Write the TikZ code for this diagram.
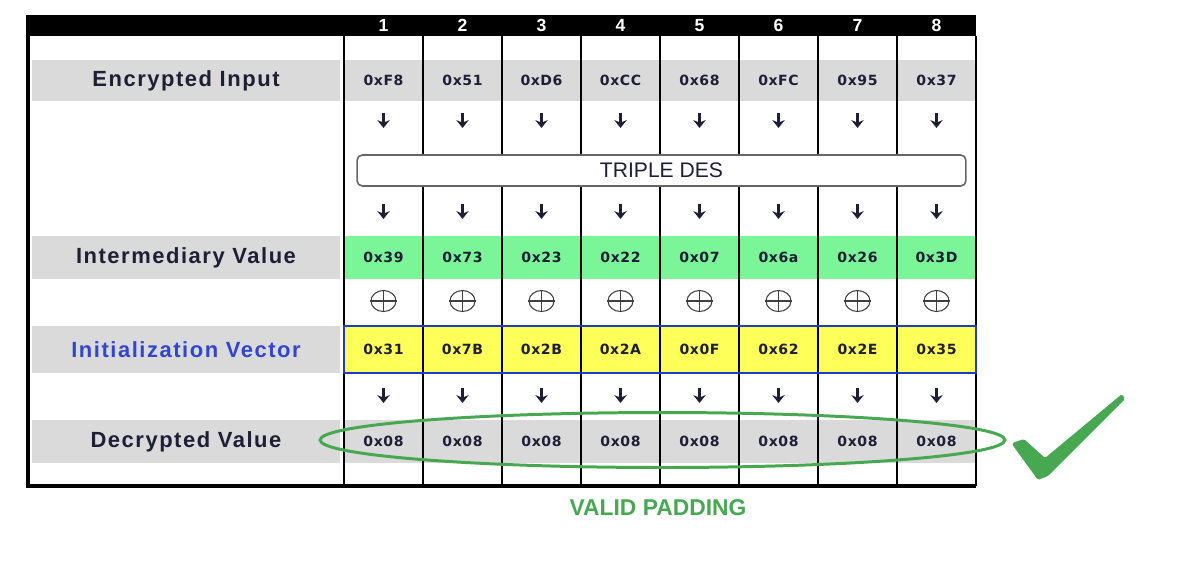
\documentclass[tikz,border=0pt]{standalone}
\usepackage{fontspec}
\setmainfont{Liberation Sans}
\newfontfamily\lblfont{Liberation Sans}[LetterSpace=7]
\newfontfamily\hexfont{DejaVu Sans}[LetterSpace=4]
\usetikzlibrary{shapes.geometric, arrows.meta}
\definecolor{bandgray}{RGB}{218,218,218}
\definecolor{midgreen}{RGB}{122,246,152}
\definecolor{ivyellow}{RGB}{255,255,90}
\definecolor{ivblue}{RGB}{30,60,200}
\definecolor{lblblue}{RGB}{50,70,205}
\definecolor{okgreen}{RGB}{72,168,82}
\definecolor{inkdark}{RGB}{30,30,55}

\begin{document}
\begin{tikzpicture}[x=0.02cm, y=-0.02cm,
    rowlabel/.style={fill=bandgray, minimum width=6.16cm, inner sep=0pt, text=inkdark,
        font=\lblfont\bfseries\fontsize{12.5}{14}\selectfont},
    hexcell/.style={minimum width=1.58cm, inner sep=0pt, text=inkdark,
        font=\hexfont\bfseries\fontsize{8}{10}\selectfont},
    colnum/.style={text=white, font=\bfseries\fontsize{10}{12}\selectfont},
    desbox/.style={draw=black!60, fill=white, rounded corners=3pt, line width=0.9pt,
        minimum width=12.18cm, minimum height=0.62cm, text=inkdark, font=\fontsize{12}{14}\selectfont},
    downarrow/.style={-{Stealth[length=4.5pt, width=7pt]}, line width=1.3pt, draw=inkdark},
    xorsign/.style={draw=black!75, ellipse, minimum width=0.5cm, minimum height=0.42cm,
        inner sep=0pt, line width=0.6pt},
    gridline/.style={line width=1.2pt},
  ]
    \useasboundingbox (0,0) rectangle (1200,562);

    \node[rowlabel, minimum height=0.82cm] (enclbl) at (186,80.5) {Encrypted Input};
    \node[rowlabel, minimum height=0.86cm] (intlbl) at (186,257.5) {Intermediary Value};
    \node[rowlabel, minimum height=0.94cm, text=lblblue] (ivlbl) at (186,349.5) {Initialization Vector};
    \node[rowlabel, minimum height=0.86cm] (declbl) at (186,441.5) {Decrypted Value};

    \foreach \v [count=\i] in {0xF8,0x51,0xD6,0xCC,0x68,0xFC,0x95,0x37}
        \node[hexcell, fill=bandgray, minimum height=0.82cm] (enc\i) at (304.5+79*\i,80.5) {\v};
    \foreach \v [count=\i] in {0x39,0x73,0x23,0x22,0x07,0x6a,0x26,0x3D}
        \node[hexcell, fill=midgreen, minimum height=0.86cm] (mid\i) at (304.5+79*\i,257.5) {\v};
    \foreach \v [count=\i] in {0x31,0x7B,0x2B,0x2A,0x0F,0x62,0x2E,0x35}
        \node[hexcell, fill=ivyellow, minimum height=0.94cm] (iv\i) at (304.5+79*\i,349.5) {\v};
    \foreach \i in {1,...,8}
        \node[hexcell, fill=bandgray, minimum height=0.86cm] (dec\i) at (304.5+79*\i,441.5) {0x08};

    \fill (27,15) rectangle (976,36);
    \foreach \i in {1,...,8}
        \node[colnum] (col\i) at (304.5+79*\i,25.5) {\i};

    \foreach \k in {0,...,8}
        \draw[gridline] (344+79*\k,36) -- (344+79*\k,486);
    \draw[line width=1.8pt] (28,15) -- (28,486) -- (976,486);
    \draw[ivblue, line width=1.4pt] (344,326) rectangle (976,373);

    \node[desbox] (des) at (661.5,170.5) {TRIPLE DES};

    \foreach \i in {1,...,8} {
        \foreach \r/\y in {a/113, b/204, c/388} {
            \coordinate (\r t\i) at (304.5+79*\i,\y);
            \coordinate (\r b\i) at (304.5+79*\i,\y+15);
            \draw[downarrow] (\r t\i) -- (\r b\i);
        }
        \node[xorsign] (xor\i) at (304.5+79*\i,301) {};
        \draw[black!75, line width=0.6pt] (xor\i.north) -- (xor\i.south) (xor\i.west) -- (xor\i.east);
    }

    \node[draw=okgreen, ellipse, line width=1.7pt, minimum width=13.7cm, minimum height=1.1cm] (ring) at (662.5,440) {};
    \fill[okgreen, rounded corners=1pt] (1012,443) -- (1024,439) -- (1045,458) -- (1122,394)
        -- (1125,399) -- (1048,476) -- (1038,480) -- (1014,447) -- cycle;
    \node[text=okgreen, font=\bfseries\fontsize{13}{15}\selectfont] (valid) at (658,508) {VALID PADDING};
\end{tikzpicture}
\end{document}
